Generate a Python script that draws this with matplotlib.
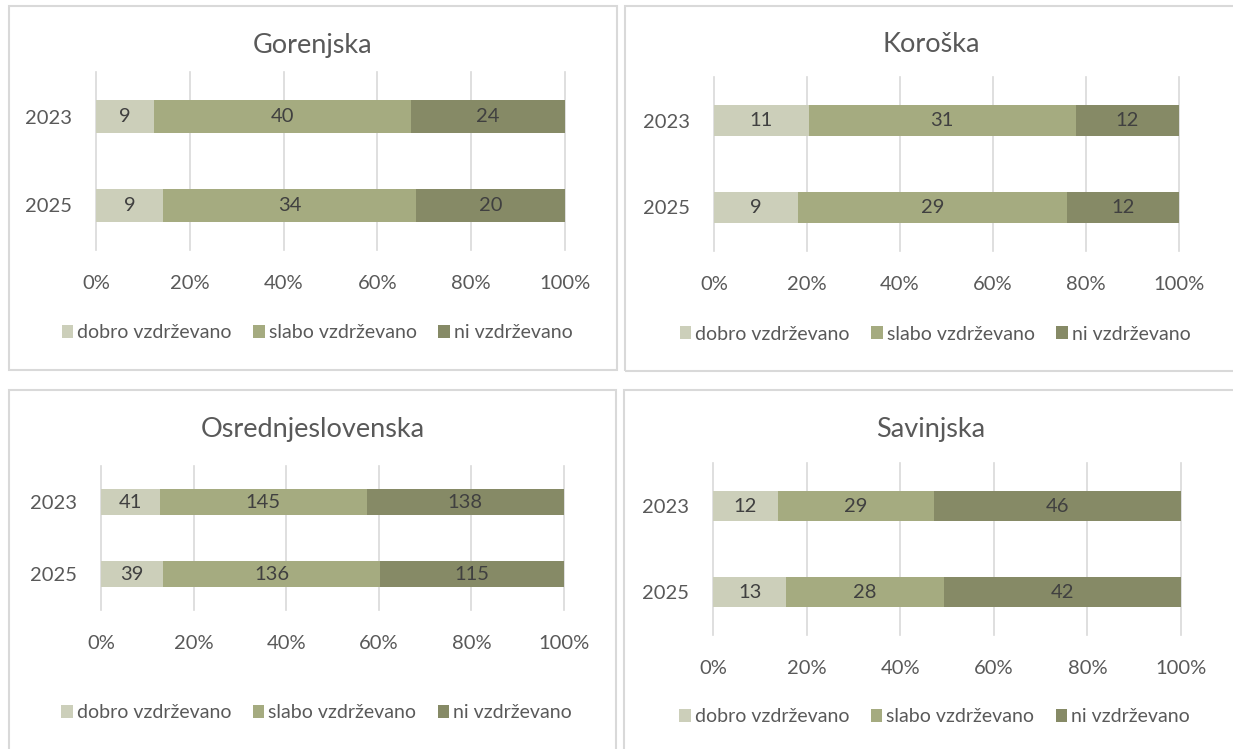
import matplotlib.pyplot as plt
import matplotlib.patches as patches
import numpy as np

plt.rcParams['font.family'] = ['Lato', 'DejaVu Sans']

# data
regions = ['Gorenjska', 'Koroška', 'Osrednjeslovenska', 'Savinjska']
years = ['2023', '2025']
series = ['dobro vzdrževano', 'slabo vzdrževano', 'ni vzdrževano']
colors = ['#CCCFBA', '#A5AB80', '#868A66']

gorenjska = [[9, 40, 24], [9, 34, 20]]
koroska = [[11, 31, 12], [9, 29, 12]]
osrednjeslovenska = [[41, 145, 138], [39, 136, 115]]
savinjska = [[12, 29, 46], [13, 28, 42]]
values = [gorenjska, koroska, osrednjeslovenska, savinjska]

W, H = 1233, 749
fig = plt.figure(figsize=(W / 100, H / 100), dpi=100)


def fx(x):
    return x / W


def fy(y):
    return 1 - y / H


# layout in pixels: panel box, plot area (x0, x1, ytop, ybot), title y, legend y
layout = [
    dict(box=(9, 6, 617, 370), area=(96, 565, 72, 250), ty=45, ly=333),
    dict(box=(625, 6, 1240, 371), area=(714, 1179, 77, 251), ty=45, ly=334),
    dict(box=(9, 390, 616, 760), area=(101, 564, 466, 610), ty=429, ly=713),
    dict(box=(624, 390, 1240, 760), area=(713, 1181, 463, 635), ty=430, ly=717),
]

grey_text = '#595959'
label_text = '#404040'
grid_col = '#D9D9D9'

for name, vals, lay in zip(regions, values, layout):
    bx0, by0, bx1, by1 = lay['box']
    fig.patches.append(patches.Rectangle((fx(bx0), fy(by1)), fx(bx1 - bx0), (by1 - by0) / H,
                                         transform=fig.transFigure, fill=False,
                                         edgecolor=grid_col, linewidth=1.5))
    x0, x1, yt, yb = lay['area']
    ax = fig.add_axes([fx(x0), fy(yb), fx(x1 - x0), (yb - yt) / H])

    arr = np.array(vals, dtype=float)
    shares = arr / arr.sum(axis=1, keepdims=True)
    ypos = np.arange(len(years))
    left = np.zeros(len(years))
    for j, s in enumerate(series):
        bars = ax.barh(ypos, shares[:, j], left=left, height=0.36, color=colors[j], label=s)
        ax.bar_label(bars, labels=[str(int(v)) for v in arr[:, j]], label_type='center',
                     color=label_text, fontsize=14.5)
        left += shares[:, j]

    ax.set_xlim(0, 1)
    ax.set_ylim(1.5, -0.5)
    ax.set_yticks(ypos)
    ax.set_yticklabels(years)
    xt = np.linspace(0, 1, 6)
    ax.set_xticks(xt)
    ax.set_xticklabels([f'{int(round(t * 100))}%' for t in xt])
    ax.tick_params(length=0, labelsize=14.5, labelcolor=grey_text)
    ax.tick_params(axis='x', pad=18)
    ax.tick_params(axis='y', pad=17)
    for sp in ax.spines.values():
        sp.set_visible(False)
    ax.set_axisbelow(True)
    ax.grid(axis='x', color=grid_col, linewidth=1.2)
    for gl in ax.get_xgridlines():
        gl.set_clip_on(False)

    cx = (bx0 + min(bx1, 1237)) / 2
    fig.text(fx(cx), fy(lay['ty']), name, ha='center', va='center',
             fontsize=19.5, color=grey_text)
    ax.legend(loc='center', bbox_to_anchor=(fx(cx + 4), fy(lay['ly'])),
              bbox_transform=fig.transFigure, ncol=3, frameon=False,
              fontsize=14, labelcolor=grey_text, handlelength=0.6, handleheight=0.6,
              handletextpad=0.2, columnspacing=1.1, borderpad=0)

fig.savefig('out.png', dpi=100)
